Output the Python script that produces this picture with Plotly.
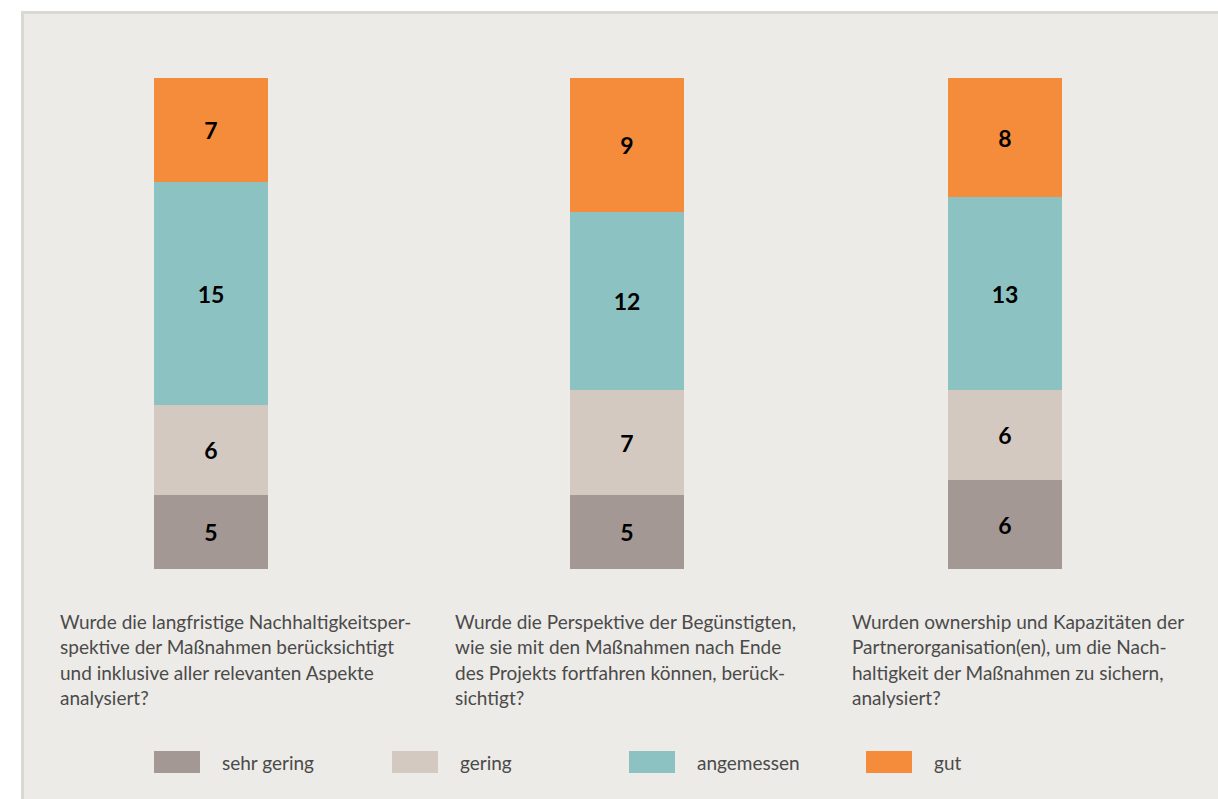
import plotly.graph_objects as go

# ---------------- data ----------------
questions = [
    "Wurde die langfristige Nachhaltigkeitsper-<br>spektive der Maßnahmen berücksichtigt<br>und inklusive aller relevanten Aspekte<br>analysiert?",
    "Wurde die Perspektive der Begünstigten,<br>wie sie mit den Maßnahmen nach Ende<br>des Projekts fortfahren können, berück-<br>sichtigt?",
    "Wurden ownership und Kapazitäten der<br>Partnerorganisation(en), um die Nach-<br>haltigkeit der Maßnahmen zu sichern,<br>analysiert?",
]
series_names = ["sehr gering", "gering", "angemessen", "gut"]
sehr_gering = [5, 5, 6]
gering = [6, 7, 6]
angemessen = [15, 12, 13]
gut = [7, 9, 8]
series_values = [sehr_gering, gering, angemessen, gut]
series_colors = ["#A39893", "#D3C9C0", "#8DC2C2", "#F48C3C"]

# ---------------- layout helpers ----------------
W, H = 1218, 799
def px(x):
    return x / W
def py(y):
    return 1 - y / H

bar_domains = [(154, 268), (570, 684), (948, 1062)]
text_left = [60, 455, 852]
xaxes = ["x", "x2", "x3"]

fig = go.Figure()
for s_idx, (name, vals, col) in enumerate(zip(series_names, series_values, series_colors)):
    for q_idx, q in enumerate(questions):
        fig.add_trace(go.Bar(
            x=[q_idx], y=[vals[q_idx]], name=name,
            xaxis=xaxes[q_idx], yaxis="y",
            marker=dict(color=col, line=dict(width=0)),
            text=[str(vals[q_idx])], textposition="inside",
            insidetextanchor="middle", textangle=0, constraintext="none",
            textfont=dict(family="Lato", size=23, color="#000000", weight="bold"),
            showlegend=False, hoverinfo="name+y", width=1,
        ))

total = max(sum(v[i] for v in series_values) for i in range(len(questions)))

layout = dict(
    width=W, height=H,
    margin=dict(l=0, r=0, t=0, b=0),
    paper_bgcolor="#FFFFFF", plot_bgcolor="rgba(0,0,0,0)",
    barmode="stack", bargap=0,
    showlegend=False,
    yaxis=dict(domain=[py(569), py(78)], range=[0, total], visible=False, fixedrange=True),
)
for i, ax in enumerate(xaxes):
    key = "xaxis" if i == 0 else "xaxis%d" % (i + 1)
    layout[key] = dict(domain=[px(bar_domains[i][0]), px(bar_domains[i][1])],
                       range=[i - 0.5, i + 0.5], anchor="y", visible=False, fixedrange=True)
fig.update_layout(**layout)

# background panel with thin border at top/left
fig.add_shape(type="rect", xref="paper", yref="paper", layer="below",
              x0=px(22.5), x1=1.02, y0=-0.02, y1=py(12.5),
              fillcolor="#EDEBE7", line=dict(color="#DAD8D2", width=3))

# question texts (line by line)
line_gap = 25.5
for q_idx, q in enumerate(questions):
    for l_idx, line in enumerate(q.split("<br>")):
        fig.add_annotation(xref="paper", yref="paper",
                           x=px(text_left[q_idx] - 2), y=py(621 + l_idx * line_gap),
                           xanchor="left", yanchor="middle", showarrow=False,
                           text=line, font=dict(family="Lato", size=19, color="#4A4A4A"))

# custom legend
leg_x = [154, 392, 629, 866]
for name, col, lx in zip(series_names, series_colors, leg_x):
    fig.add_shape(type="rect", xref="paper", yref="paper",
                  x0=px(lx), x1=px(lx + 46), y0=py(773), y1=py(751),
                  fillcolor=col, line=dict(width=0))
    fig.add_annotation(xref="paper", yref="paper", x=px(lx + 66), y=py(762),
                       xanchor="left", yanchor="middle", showarrow=False,
                       text=name, font=dict(family="Lato", size=19, color="#4A4A4A"))

fig.write_html("out.html")
